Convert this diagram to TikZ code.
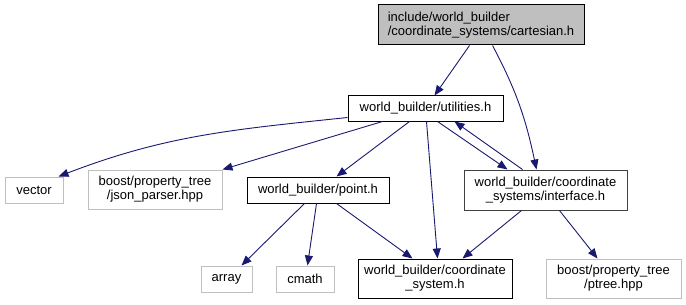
\documentclass[tikz,border=0pt]{standalone}
\usepackage{fontspec}
\setmainfont{Liberation Sans}
\usetikzlibrary{arrows.meta}
\definecolor{edgeblue}{HTML}{191970}
\definecolor{lightgrey}{HTML}{BFBFBF}
\definecolor{darkframe}{HTML}{404040}
\tikzset{
  file/.style={draw=black, line width=1pt, inner sep=0pt, align=center,
    font=\fontsize{13}{14}\selectfont},
  sysfile/.style={file, draw=lightgrey},
  mainfile/.style={file, fill=lightgrey, draw=black, align=left},
  edge/.style={draw=edgeblue, line width=0.9pt,
    -{Triangle[length=10pt,width=8pt]}},
}
\begin{document}
\begin{tikzpicture}[x=1pt, y=-1pt]
\useasboundingbox (0,0) rectangle (686,305);

% include graph nodes
\node[mainfile, minimum width=206pt, minimum height=40pt] (cart) at (481,25)
  {include/world\_builder\\/coordinate\_systems/cartesian.h};
\node[file, minimum width=155pt, minimum height=25pt] (util) at (425.5,108.5)
  {world\_builder/utilities.h};
\node[sysfile, minimum width=58pt, minimum height=26pt] (vector) at (34,190) {vector};
\node[sysfile, minimum width=134pt, minimum height=39pt] (json) at (155,189.5)
  {boost/property\_tree\\/json\_parser.hpp};
\node[file, minimum width=142pt, minimum height=26pt] (point) at (318,190)
  {world\_builder/point.h};
\node[file, draw=darkframe, minimum width=163pt, minimum height=40pt] (iface) at (545.5,190)
  {world\_builder/coordinate\\\_systems/interface.h};
\node[file, minimum width=154pt, minimum height=39pt] (csys) at (435,278.5)
  {world\_builder/coordinate\\\_system.h};
\node[sysfile, minimum width=135pt, minimum height=39pt] (ptree) at (613.5,278.5)
  {boost/property\_tree\\/ptree.hpp};
\node[sysfile, minimum width=51pt, minimum height=26pt] (array) at (226.5,279) {array};
\node[sysfile, minimum width=58pt, minimum height=26pt] (cmath) at (305,279) {cmath};

% dependencies of cartesian.h
\draw[edge] ([xshift=92pt]cart.south west) -- ([xshift=87pt]util.north west);
\draw[edge] ([xshift=115pt]cart.south west) to[out=-62,in=102] ([xshift=73pt]iface.north west);

% dependencies of utilities.h
\draw[edge] ([yshift=4pt]util.south west) to[out=186,in=21] ([xshift=-5pt]vector.north east);
\draw[edge] ([xshift=35pt]util.south west) -- (json.north east);
\draw[edge] ([xshift=62pt]util.south west) -- ([xshift=90pt]point.north west);
\draw[edge] ([xshift=79pt]util.south west) -- ([xshift=80pt]csys.north west);
\draw[edge] ([xshift=90pt]util.south west) -- ([xshift=44pt]iface.north west);

% dependencies of interface.h
\draw[edge] ([xshift=59pt]iface.north west) -- ([xshift=107pt]util.south west);
\draw[edge] ([xshift=58pt]iface.south west) -- ([xshift=105pt]csys.north west);
\draw[edge] ([xshift=96pt]iface.south west) -- ([xshift=52pt]ptree.north west);

% dependencies of point.h
\draw[edge] ([xshift=58pt]point.south west) -- ([xshift=41pt]array.north west);
\draw[edge] ([xshift=70pt]point.south west) -- ([xshift=32pt]cmath.north west);
\draw[edge] ([xshift=90pt]point.south west) -- ([xshift=55pt]csys.north west);
\end{tikzpicture}
\end{document}
